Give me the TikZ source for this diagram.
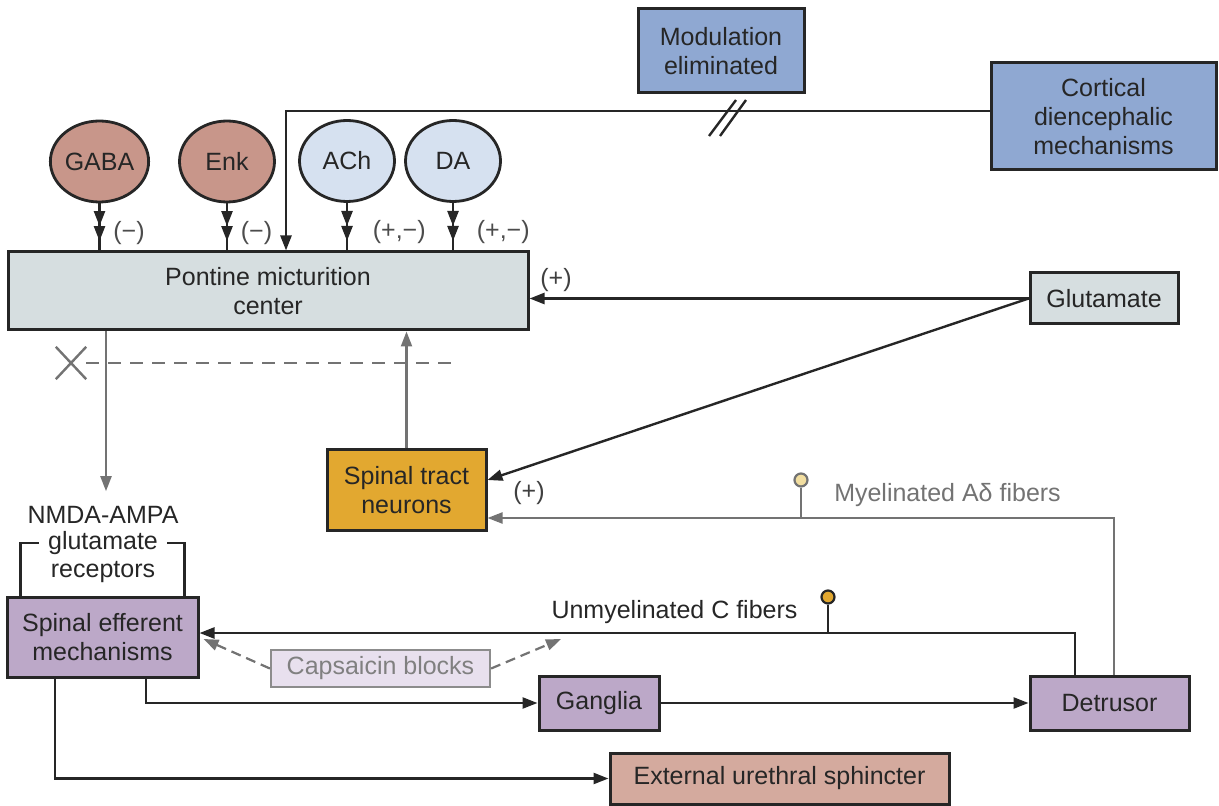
\documentclass[tikz,border=0pt]{standalone}
\usepackage{fontspec}
\setmainfont{Liberation Sans}
\usepackage{tikz}
\usetikzlibrary{arrows, arrows.meta, decorations.markings, calc, shapes.geometric, shapes.misc, positioning}
\definecolor{modblue}{RGB}{143,168,210}
\definecolor{rose}{RGB}{200,150,138}
\definecolor{paleblue}{RGB}{214,225,240}
\definecolor{pontgrey}{RGB}{214,222,224}
\definecolor{tractgold}{RGB}{226,168,48}
\definecolor{lavender}{RGB}{188,168,200}
\definecolor{palelav}{RGB}{232,224,238}
\definecolor{sphpink}{RGB}{212,170,158}
\definecolor{paleyellow}{RGB}{242,222,160}
\tikzset{middlearrow/.style={
    decoration={markings,
    mark= at position 0.8 with {\arrow{#1}},
    },
    postaction={decorate}
    }
}
\tikzset{block/.style={draw=black!85, line width=1.5pt, align=center, inner sep=0pt},
    transmitter/.style={ellipse, draw=black!85, line width=1.4pt, minimum width=47.5pt, minimum height=40.5pt, inner sep=0pt},
    greyline/.style={draw=black!55, line width=1.1pt},
    ending/.style={circle, draw, line width=1.1pt, minimum size=6.5pt, inner sep=0pt}
}

\begin{document}
\begin{tikzpicture}[x=0.5pt, y=-0.5pt, >={Triangle[length=7.5pt,width=5.5pt]}, line width=1.2pt, color=black!85, font=\fontsize{12.5}{14.5}\selectfont]
        \useasboundingbox (0,0) rectangle (1219,806);
        \node[block, fill=modblue, minimum width=83pt, minimum height=42pt] (mod) at (721,51) {Modulation\\eliminated};
        \node[block, fill=modblue, minimum width=112.5pt, minimum height=53.5pt] (cort) at (1103.5,116.5) {Cortical\\diencephalic\\mechanisms};
        \node[transmitter, fill=rose] (gaba) at (99.5,161.5) {GABA};
        \node[transmitter, fill=rose] (enk) at (227,161.5) {Enk};
        \node[transmitter, fill=paleblue] (ach) at (347,161) {ACh};
        \node[transmitter, fill=paleblue] (da) at (453,161) {DA};
        \node[block, fill=pontgrey, minimum width=260pt, minimum height=39pt] (pmc) at (268,291) {Pontine micturition\\center};
        \node[block, fill=pontgrey, minimum width=74pt, minimum height=25.5pt] (glu) at (1104,298.5) {Glutamate};
        \node[block, fill=tractgold, minimum width=79.5pt, minimum height=40pt] (spt) at (406.5,490) {Spinal tract\\neurons};
        \node[block, fill=lavender, minimum width=95.5pt, minimum height=40pt] (sem) at (102.5,637) {Spinal efferent\\mechanisms};
        \node[block, draw=black!45, line width=1.1pt, fill=palelav, text=black!50, minimum width=109.5pt, minimum height=18.5pt] (cap) at (380.5,668.5) {Capsaicin blocks};
        \node[block, fill=lavender, minimum width=60pt, minimum height=27pt] (gan) at (599,703) {Ganglia};
        \node[block, fill=lavender, minimum width=79.5pt, minimum height=27pt] (det) at (1109.5,703) {Detrusor};
        \node[block, fill=sphpink, minimum width=169.5pt, minimum height=25.5pt] (eus) at (779.5,778.5) {External urethral sphincter};

        \node[inner sep=0pt] (nmda) at (103,515) {NMDA-AMPA};
        \node[inner sep=0pt] (glut) at (103,543) {glutamate};
        \node[inner sep=0pt] (rec) at (103,572) {receptors};
        \node[text=black!75] (gplus) at (556,280) {(+)};
        \node[text=black!75] (splus) at (529,493) {(+)};
        \node[text=black!55] (adlab) at (947.5,495) {Myelinated Aδ fibers};
        \node (clab) at (674.5,612) {Unmyelinated C fibers};
        \node[cross out, draw=black!55, line width=1.2pt, minimum width=14pt, minimum height=15pt, inner sep=0pt] (blk) at (71,363) {};
        \node[ending, fill=paleyellow, draw=black!55] (ad) at (801,480) {};
        \node[ending, fill=tractgold] (cf) at (828,597) {};
        \coordinate (dashend) at (459,363);
        \coordinate (capend) at (561,639);
        \coordinate (pmcout) at ([xshift=-81pt]pmc.south);
        \coordinate (afib) at ([yshift=-14pt]spt.east);
        \coordinate (cfib) at ([yshift=2pt]sem.east);

        \draw[middlearrow={>>}] (gaba) -- (gaba |- pmc.north) node[pos=0.62, right=3pt, text=black!70] (mgaba) {(−)};
        \draw[middlearrow={>>}] (enk) -- (enk |- pmc.north) node[pos=0.62, right=3pt, text=black!70] (menk) {(−)};
        \draw[middlearrow={>>}] (ach) -- (ach |- pmc.north) node[pos=0.62, right=9pt, text=black!70] (mach) {(+,−)};
        \draw[middlearrow={>>}] (da) -- (da |- pmc.north) node[pos=0.62, right=8pt, text=black!70] (mda) {(+,−)};

        \draw[->] ([yshift=2.75pt]cort.west) -| ([xshift=9pt]pmc.north);
        \draw (709,136) -- (736,100);
        \draw (720,136) -- (746,100);

        \draw[->] (glu.west) -- (glu.west -| pmc.east);
        \draw[->] (glu.west) -- ([yshift=5pt]spt.east);
        \draw[greyline, ->] (spt.north) -- (spt.north |- pmc.south);
        \draw[greyline, ->, shorten >=7pt] (pmcout) -- (pmcout |- nmda.north);
        \draw[greyline, dash pattern=on 6.5pt off 4.5pt] (blk.east) -- (dashend);

        \draw ([xshift=7.5pt]sem.north west) |- ([xshift=-4pt]glut.west);
        \draw ([xshift=-7.5pt]sem.north east) |- ([xshift=4pt]glut.east);

        \draw[greyline, ->] ([xshift=2.25pt]det.north) |- (afib);
        \draw[greyline] (ad) -- (ad |- afib);
        \draw[->] ([xshift=-17.25pt]det.north) |- (cfib);
        \draw (cf) -- (cf |- cfib);

        \draw[greyline, dash pattern=on 5pt off 3pt, ->] (cap.west) -- ([xshift=2pt,yshift=-1pt]sem.east);
        \draw[greyline, dash pattern=on 5pt off 3pt, ->] (cap.east) -- (capend);

        \draw[->] ([xshift=21.75pt]sem.south) |- (gan.west);
        \draw[->] (gan.east) -- (det.west);
        \draw[->] ([xshift=-23.75pt]sem.south) |- (eus.west);
    \end{tikzpicture}
\end{document}
